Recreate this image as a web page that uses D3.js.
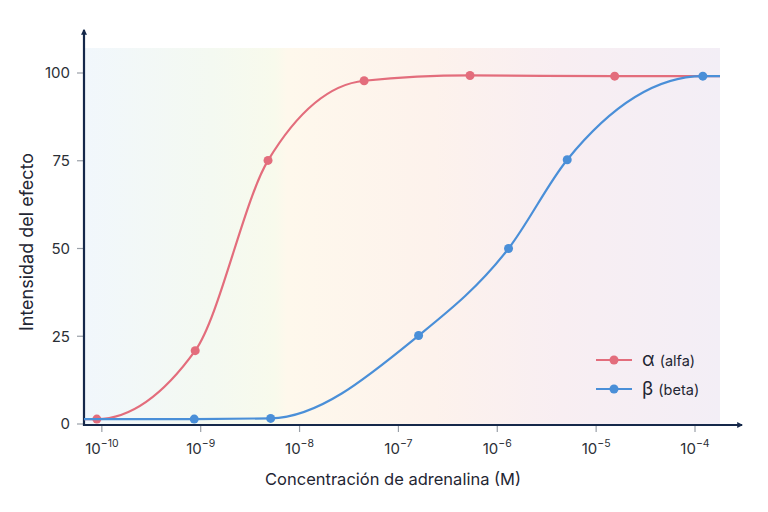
<!DOCTYPE html>
<html>
<head>
<meta charset="utf-8">
<script src="https://cdn.jsdelivr.net/npm/d3@7"></script>
<style>
  body { margin: 0; background: #fff; }
  svg { font-family: Inter, "Noto Sans", sans-serif; }
</style>
</head>
<body>
<div id="chart"></div>
<script>
// data
var alphaConc = [8.9e-11, 8.8e-10, 4.8e-9, 4.5e-8, 5.3e-7, 1.54e-5];
var alphaVal  = [1.4, 20.9, 75.1, 97.8, 99.3, 99.1];
var betaConc  = [8.6e-10, 5.1e-9, 1.6e-7, 1.3e-6, 5.1e-6, 1.2e-4];
var betaVal   = [1.4, 1.6, 25.2, 50, 75.3, 99.1];
var xTickExp  = [-10, -9, -8, -7, -6, -5, -4];
var yTicks    = [0, 25, 50, 75, 100];
var seriesNames = ["α", "β"];
var seriesSub   = ["(alfa)", "(beta)"];

var width = 768, height = 512;
var plot = { left: 84, right: 720, top: 48, bottom: 425 };

var red = "#e36d7c", blue = "#4a8fd8", axisCol = "#15284a";

var x = d3.scaleLog()
    .domain([6.6e-11, 1.79e-4])
    .range([plot.left, plot.right]);

var y = d3.scaleLinear()
    .domain([0, 100])
    .range([424, 73]);

var svg = d3.select("#chart")
    .append("svg")
    .attr("width", width)
    .attr("height", height);

// background gradient
var defs = svg.append("defs");
var grad = defs.append("linearGradient")
    .attr("id", "bg")
    .attr("x1", "0%").attr("x2", "100%");
[["0%", "#f1f7fc"], ["20%", "#f4f9f1"], ["30%", "#f8faec"], ["32%", "#fef8ec"],
 ["55%", "#fdf2ec"], ["75%", "#f8eef2"], ["100%", "#f3eef6"]].forEach(function(s) {
    grad.append("stop").attr("offset", s[0]).attr("stop-color", s[1]);
});

svg.append("rect")
    .attr("x", plot.left)
    .attr("y", plot.top)
    .attr("width", plot.right - plot.left)
    .attr("height", plot.bottom - plot.top)
    .attr("fill", "url(#bg)");

// arrow heads
defs.append("marker")
    .attr("id", "arrow")
    .attr("viewBox", "0 0 10 10")
    .attr("refX", 8).attr("refY", 5)
    .attr("markerWidth", 6).attr("markerHeight", 6)
    .attr("markerUnits", "userSpaceOnUse")
    .attr("orient", "auto")
    .append("path")
    .attr("d", "M0,0 L10,5 L0,10 Z")
    .attr("fill", axisCol);

// y ticks
var yAxis = svg.append("g").attr("class", "y-axis");
yAxis.selectAll("line")
    .data(yTicks).enter().append("line")
    .attr("x1", 77).attr("x2", plot.left)
    .attr("y1", function(d) { return y(d); })
    .attr("y2", function(d) { return y(d); })
    .attr("stroke", "#9aa0a8").attr("stroke-width", 1.2);
yAxis.selectAll("text")
    .data(yTicks).enter().append("text")
    .attr("x", 70)
    .attr("y", function(d) { return y(d); })
    .attr("dy", "0.35em")
    .attr("text-anchor", "end")
    .attr("font-size", 15)
    .attr("fill", "#2b2f36")
    .text(function(d) { return d; });

// x ticks
var xAxis = svg.append("g").attr("class", "x-axis");
xAxis.selectAll("line")
    .data(xTickExp).enter().append("line")
    .attr("x1", function(d) { return x(Math.pow(10, d)); })
    .attr("x2", function(d) { return x(Math.pow(10, d)); })
    .attr("y1", plot.bottom).attr("y2", 432)
    .attr("stroke", "#9aa0a8").attr("stroke-width", 1.2);
var xt = xAxis.selectAll("text")
    .data(xTickExp).enter().append("text")
    .attr("x", function(d) { return x(Math.pow(10, d)); })
    .attr("y", 454)
    .attr("text-anchor", "middle")
    .attr("font-size", 15)
    .attr("fill", "#2b2f36");
xt.append("tspan").text("10");
xt.append("tspan")
    .attr("dy", -7)
    .attr("font-size", 10.5)
    .text(function(d) { return "\u2212" + Math.abs(d); });

// axis lines
svg.append("line")
    .attr("x1", plot.left).attr("x2", plot.left)
    .attr("y1", plot.bottom + 1).attr("y2", 30)
    .attr("stroke", axisCol).attr("stroke-width", 2.2)
    .attr("marker-end", "url(#arrow)");
svg.append("line")
    .attr("x1", plot.left - 1).attr("x2", 742)
    .attr("y1", plot.bottom).attr("y2", plot.bottom)
    .attr("stroke", axisCol).attr("stroke-width", 2.2)
    .attr("marker-end", "url(#arrow)");

// axis titles
svg.append("text")
    .attr("transform", "translate(33,242) rotate(-90)")
    .attr("text-anchor", "middle")
    .attr("font-size", 18)
    .attr("fill", "#1f2633")
    .text("Intensidad del efecto");
svg.append("text")
    .attr("x", 393).attr("y", 485)
    .attr("text-anchor", "middle")
    .attr("font-size", 16.5)
    .attr("fill", "#1f2633")
    .text("Concentración de adrenalina (M)");

// curves
var line = d3.line()
    .x(function(d) { return x(d[0]); })
    .y(function(d) { return y(d[1]); })
    .curve(d3.curveMonotoneX);

function series(conc, val, color) {
    var pts = conc.map(function(c, i) { return [c, val[i]]; });
    var ext = [[x.domain()[0], val[0]]].concat(pts, [[x.domain()[1], val[val.length - 1]]]);
    var g = svg.append("g");
    g.append("path")
        .datum(ext)
        .attr("d", line)
        .attr("fill", "none")
        .attr("stroke", color)
        .attr("stroke-width", 2.2);
    g.selectAll("circle")
        .data(pts).enter().append("circle")
        .attr("cx", function(d) { return x(d[0]); })
        .attr("cy", function(d) { return y(d[1]); })
        .attr("r", 4.5)
        .attr("fill", color);
}
series(alphaConc, alphaVal, red);
series(betaConc, betaVal, blue);

// legend
var legend = svg.append("g").attr("transform", "translate(596,360)");
[red, blue].forEach(function(c, i) {
    var row = legend.append("g").attr("transform", "translate(0," + (i * 29) + ")");
    row.append("line").attr("x1", 0).attr("x2", 36)
        .attr("stroke", c).attr("stroke-width", 2.2);
    row.append("circle").attr("cx", 18).attr("r", 4.5).attr("fill", c);
    var t = row.append("text").attr("x", 46).attr("dy", "0.35em").attr("fill", "#1f2633");
    t.append("tspan").attr("font-size", 19).text(seriesNames[i]);
    t.append("tspan").attr("font-size", 14.5).attr("dx", 5).text(seriesSub[i]);
});
</script>
</body>
</html>
